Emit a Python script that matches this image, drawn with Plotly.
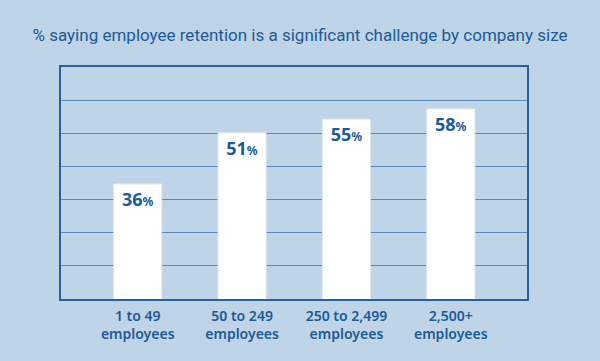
import plotly.graph_objects as go

categories = ["1 to 49<br>employees", "50 to 249<br>employees", "250 to 2,499<br>employees", "2,500+<br>employees"]
values = [36, 51, 55, 58]
labels = [f"<b>{v}<span style='font-size:12px'>%</span></b>" for v in values]

TEXT = "#1b5b97"
BG = "#bfd4e6"
Y0, Y1 = 2.3, 70.3

fig = go.Figure(go.Bar(
    x=categories, y=values, text=labels,
    textposition="inside", insidetextanchor="end",
    textfont=dict(family="Noto Sans", size=18, color=TEXT),
    marker=dict(color="white", line=dict(color="#e2ecf5", width=1)),
    width=0.46, cliponaxis=False, hoverinfo="skip",
))

fig.update_layout(
    width=600, height=361,
    margin=dict(l=61, r=73, t=67, b=62),
    paper_bgcolor=BG, plot_bgcolor=BG,
    showlegend=False,
    title=dict(text="% saying employee retention is a significant challenge by company size",
               x=0.5, xanchor="center", y=1 - 35/361, yanchor="middle",
               font=dict(family="Roboto", size=17, color=TEXT)),
)
fig.update_xaxes(range=[-0.735, 3.73], showgrid=False, showline=True, mirror=True,
                 linecolor="#2560a0", linewidth=1.5, ticks="", ticklabelstandoff=3,
                 tickfont=dict(family="Noto Sans", size=14, color=TEXT, weight=600))
fig.update_yaxes(range=[Y0, Y1], tick0=Y0, dtick=(Y1 - Y0) / 7, showgrid=True,
                 gridcolor="#5588bb", gridwidth=1,
                 showticklabels=False, zeroline=False, showline=True, mirror=True,
                 linecolor="#2560a0", linewidth=1.5, ticks="")

fig.write_html("out.html", config={"displayModeBar": False},
               post_script="document.body.style.margin='0';")
